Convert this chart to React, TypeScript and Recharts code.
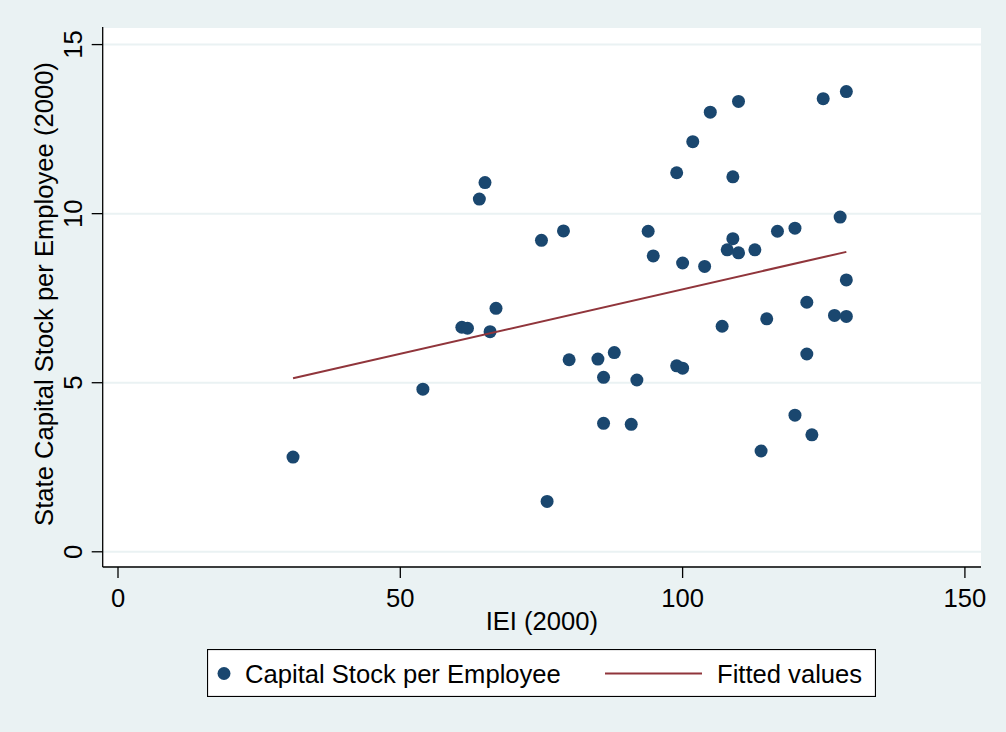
import { CartesianGrid, Label, Legend, Scatter, ScatterChart, XAxis, YAxis } from "recharts";

// IEI (2000) per state
const iei = [
  31.0, 54.0, 60.9, 61.9, 64.0, 65.0, 65.9, 66.95, 75.0, 78.9, 93.9, 94.8,
  98.95, 101.8, 104.9, 109.9, 108.9, 100.0, 103.9, 107.9, 108.9, 109.9, 112.8, 116.8,
  119.9, 124.9, 129.0, 127.9, 129.0, 122.0, 126.9, 129.0, 107.0, 114.9, 122.0, 79.9,
  85.0, 87.9, 98.95, 100.0, 86.0, 91.9, 86.0, 90.9, 119.9, 122.9, 113.9, 76.0,
];

// state capital stock per employee (2000)
const capital = [
  2.8, 4.81, 6.64, 6.61, 10.43, 10.92, 6.51, 7.2, 9.21, 9.49, 9.48, 8.75,
  11.21, 12.13, 13.0, 13.32, 11.09, 8.54, 8.44, 8.93, 9.26, 8.84, 8.93, 9.48,
  9.57, 13.4, 13.61, 9.9, 8.04, 7.38, 6.99, 6.96, 6.67, 6.89, 5.85, 5.68,
  5.7, 5.89, 5.5, 5.43, 5.16, 5.08, 3.8, 3.77, 4.04, 3.46, 2.98, 1.49,
];

const fitIei = [31.0, 129.0];
const fitValues = [5.13, 8.87];

const xTicks = [0, 50, 100, 150];
const yTicks = [0, 5, 10, 15];

const points = iei.map((x, i) => ({ x, y: capital[i] }));
const fitted = fitIei.map((x, i) => ({ x, y: fitValues[i] }));

const FONT = "'Liberation Sans', Arial, Helvetica, sans-serif";
const FS = 25.6;
const NAVY = "#1a476f";
const MAROON = "#90353b";
const BG = "#eaf2f3";

function YTick({ x, y, payload }: any) {
  return (
    <text x={x} y={y} transform={`rotate(-90 ${x} ${y})`} textAnchor="middle" fontSize={FS} fontFamily={FONT} fill="#000">
      {payload.value}
    </text>
  );
}

function XTick({ x, y, payload }: any) {
  return (
    <text x={x} y={y} dy="0.71em" textAnchor="middle" fontSize={FS} fontFamily={FONT} fill="#000">
      {payload.value}
    </text>
  );
}

function YTitle({ viewBox }: any) {
  const x = viewBox.x + 10.5;
  const y = viewBox.y + viewBox.height / 2 - 3;
  return (
    <text x={x} y={y} transform={`rotate(-90 ${x} ${y})`} textAnchor="middle" fontSize={FS} fontFamily={FONT} fill="#000">
      State Capital Stock per Employee (2000)
    </text>
  );
}

function LegendBox() {
  return (
    <svg width={669} height={48} style={{ display: "block" }}>
      <rect x={0.5} y={0.5} width={668} height={47} fill="#fff" stroke="#000" strokeWidth={1.2} />
      <circle cx={17} cy={24.5} r={6.5} fill={NAVY} />
      <text x={38} y={33.5} fontSize={FS} fontFamily={FONT} fill="#000">
        Capital Stock per Employee
      </text>
      <line x1={398} x2={495} y1={24.5} y2={24.5} stroke={MAROON} strokeWidth={2} />
      <text x={510} y={33.5} fontSize={FS} fontFamily={FONT} fill="#000">
        Fitted values
      </text>
    </svg>
  );
}

export default function App() {
  return (
    <div style={{ position: "absolute", left: 0, top: 0, width: 1006, height: 732, background: BG }}>
      <ScatterChart width={1006} height={732} margin={{ top: 27, right: 25, bottom: 125, left: 42.7 }}>
        <CartesianGrid vertical={false} stroke={BG} strokeWidth={2} fill="#fff" />
        <XAxis
          type="number"
          dataKey="x"
          domain={[-2.71, 152.85]}
          ticks={xTicks}
          allowDataOverflow
          height={40}
          tickSize={11}
          tickMargin={11}
          tick={<XTick />}
          axisLine={{ stroke: "#000", strokeWidth: 1.3 }}
          tickLine={{ stroke: "#000", strokeWidth: 1.3 }}
        >
          <Label value="IEI (2000)" position="bottom" offset={5} fontSize={FS} fontFamily={FONT} fill="#000" />
        </XAxis>
        <YAxis
          type="number"
          dataKey="y"
          domain={[-0.45, 15.52]}
          ticks={yTicks}
          allowDataOverflow
          width={60}
          tickSize={11}
          tickMargin={9.7}
          tick={<YTick />}
          axisLine={{ stroke: "#000", strokeWidth: 1.3 }}
          tickLine={{ stroke: "#000", strokeWidth: 1.3 }}
        >
          <Label content={<YTitle />} />
        </YAxis>
        <Scatter
          data={points}
          isAnimationActive={false}
          shape={(p: any) => <circle cx={p.cx} cy={p.cy} r={6.5} fill={NAVY} />}
        />
        <Scatter
          data={fitted}
          isAnimationActive={false}
          line={{ stroke: MAROON, strokeWidth: 2 }}
          shape={() => <g />}
        />
        <Legend
          layout="horizontal"
          verticalAlign="middle"
          align="center"
          content={() => <LegendBox />}
          wrapperStyle={{ left: 207, top: 649, width: 669, height: 48 }}
        />
      </ScatterChart>
    </div>
  );
}
